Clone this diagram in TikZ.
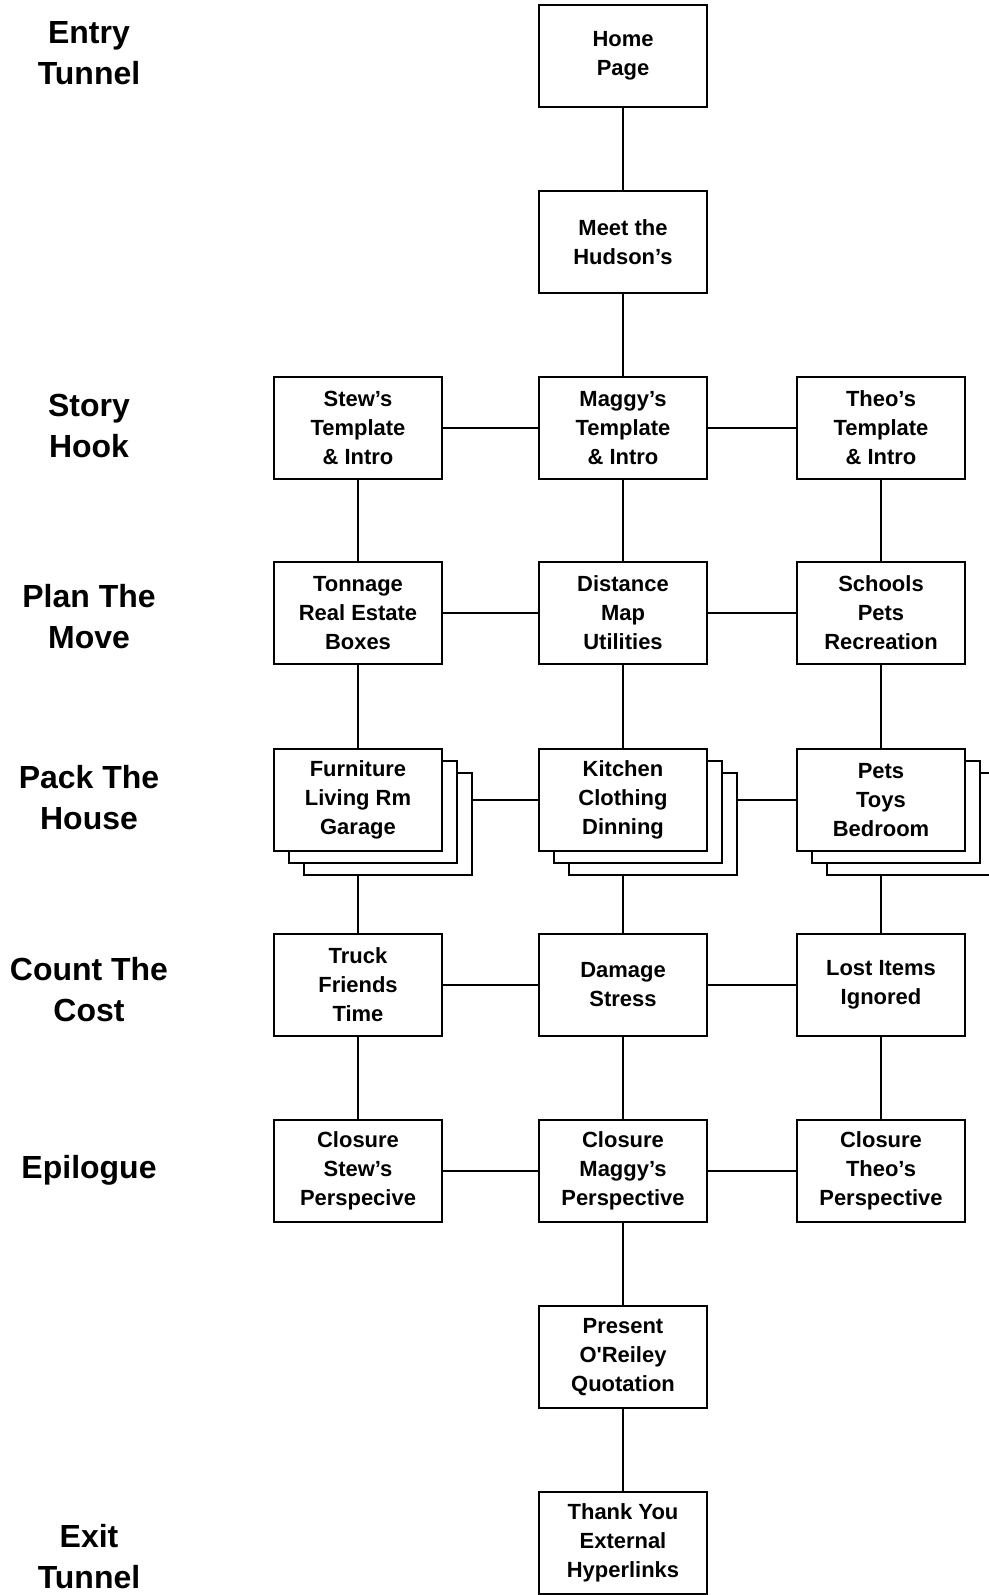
\documentclass[tikz,border=0pt]{standalone}
\usepackage{fontspec}
\setmainfont{Liberation Sans}
\usetikzlibrary{shadows,backgrounds}

\begin{document}
\begin{tikzpicture}[
  x=0.02cm, y=-0.02cm,
  box/.style={draw, fill=white, line width=1.1pt, minimum width=3.36cm,
    minimum height=2.04cm, align=center,
    font=\fontsize{12.5}{16.5}\selectfont\bfseries},
  stack/.style={box,
    copy shadow={shadow xshift=0.6cm, shadow yshift=-0.48cm},
    copy shadow={shadow xshift=0.3cm, shadow yshift=-0.24cm}},
  stage/.style={align=center, font=\fontsize{18.2}{23.3}\selectfont\bfseries},
  link/.style={line width=1.1pt}
]
\useasboundingbox (0,0) rectangle (989,1595);

% --- stage labels (left) ---
\node[stage] (entry)  at (89,  53) {Entry\\Tunnel};
\node[stage] (hook)   at (89, 426) {Story\\Hook};
\node[stage] (plan)   at (89, 617) {Plan The\\Move};
\node[stage] (pack)   at (89, 798) {Pack The\\House};
\node[stage] (count)  at (89, 990) {Count The\\Cost};
\node[stage] (epi)    at (89,1170) {Epilogue};
\node[stage] (exit)   at (89,1557) {Exit\\Tunnel};

% --- pages ---
\node[box] (home)  at (623,  56) {Home\\Page};
\node[box] (meet)  at (623, 242) {Meet the\\Hudson’s};

\node[box] (stew)  at (358, 428) {Stew’s\\Template\\\& Intro};
\node[box] (maggy) at (623, 428) {Maggy’s\\Template\\\& Intro};
\node[box] (theo)  at (881, 428) {Theo’s\\Template\\\& Intro};

\node[box] (tonnage)  at (358, 613) {Tonnage\\Real Estate\\Boxes};
\node[box] (distance) at (623, 613) {Distance\\Map\\Utilities};
\node[box] (schools)  at (881, 613) {Schools\\Pets\\Recreation};

\node[stack] (furn)    at (358, 800) {Furniture\\Living Rm\\Garage};
\node[stack] (kitchen) at (623, 800) {Kitchen\\Clothing\\Dinning};
\node[stack] (pets)    at (881, 800) {Pets\\Toys\\Bedroom};

\node[box] (truck)  at (358, 985) {Truck\\Friends\\Time};
\node[box] (damage) at (623, 985) {Damage\\Stress};
\node[box] (lost)   at (881, 985) {Lost Items\\Ignored};

\node[box] (closeS) at (358,1171) {Closure\\Stew’s\\Perspecive};
\node[box] (closeM) at (623,1171) {Closure\\Maggy’s\\Perspective};
\node[box] (closeT) at (881,1171) {Closure\\Theo’s\\Perspective};

\node[box] (quote)  at (623,1357) {Present\\O\textquotesingle Reiley\\Quotation};
\node[box] (thanks) at (623,1543) {Thank You\\External\\Hyperlinks};

% --- links (behind the pages) ---
\begin{scope}[on background layer]
% main line
\draw[link] (home) -- (meet);
\draw[link] (meet) -- (maggy);
\draw[link] (closeM) -- (quote);
\draw[link] (quote) -- (thanks);
% columns
\draw[link] (stew) -- (tonnage) -- (furn) -- (truck) -- (closeS);
\draw[link] (maggy) -- (distance) -- (kitchen) -- (damage) -- (closeM);
\draw[link] (theo) -- (schools) -- (pets) -- (lost) -- (closeT);
% rows
\draw[link] (stew) -- (maggy) -- (theo);
\draw[link] (tonnage) -- (distance) -- (schools);
\draw[link] (furn) -- (kitchen) -- (pets);
\draw[link] (truck) -- (damage) -- (lost);
\draw[link] (closeS) -- (closeM) -- (closeT);
\end{scope}

\end{tikzpicture}
\end{document}
